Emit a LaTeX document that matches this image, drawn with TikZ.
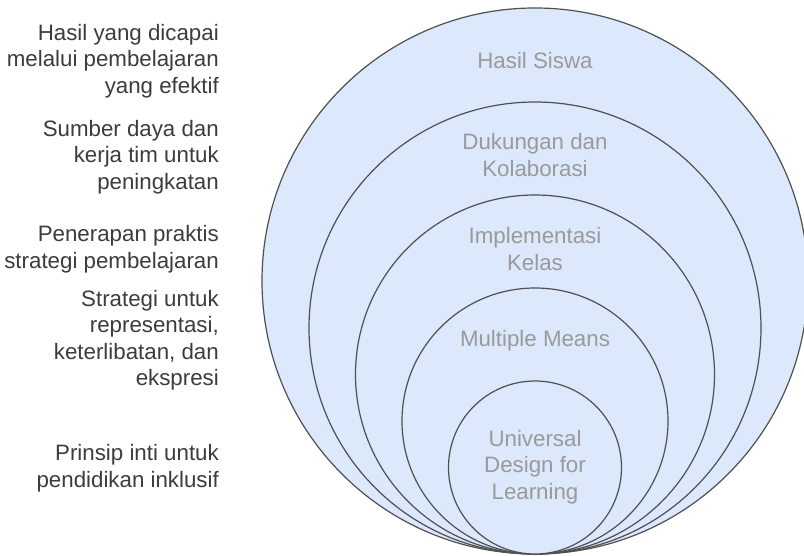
\documentclass[tikz,border=0pt]{standalone}
\usepackage{fontspec}
\setmainfont{Liberation Sans}
\definecolor{ringfill}{HTML}{DCE8FC}
\definecolor{ringline}{HTML}{505050}
\definecolor{ringtext}{HTML}{9A9A9A}
\definecolor{sidetext}{HTML}{3C3C3C}
\begin{document}
\begin{tikzpicture}[x=1pt,y=-1pt,
  ring/.style={circle, draw=ringline, fill=ringfill, line width=1.2pt, inner sep=0pt, outer sep=0pt},
  ringlabel/.style={text=ringtext, align=center, inner sep=0pt, font=\fontsize{22.3}{26.5}\selectfont},
  sidelabel/.style={text=sidetext, align=right, anchor=east, inner sep=0pt, font=\fontsize{22.3}{26.5}\selectfont}]
\useasboundingbox (0,0) rectangle (804,556);
\node[ring, minimum size=546pt] (c1) at (535,281) {};
\node[ring, minimum size=452pt] (c2) at (535,328) {};
\node[ring, minimum size=359pt] (c3) at (535,374.5) {};
\node[ring, minimum size=266pt] (c4) at (535,421) {};
\node[ring, minimum size=173pt] (c5) at (535,467.5) {};
\node[ringlabel] (l1) at (535,61) {Hasil Siswa};
\node[ringlabel] (l2) at (535,155) {Dukungan dan\\Kolaborasi};
\node[ringlabel] (l3) at (535,249) {Implementasi\\Kelas};
\node[ringlabel] (l4) at (535,341) {Multiple Means};
\node[ringlabel] (l5) at (535,467) {Universal\\Design for\\Learning};
\node[sidelabel] (s1) at (219,61) {Hasil yang dicapai\\melalui pembelajaran\\yang efektif};
\node[sidelabel] (s2) at (219,157) {Sumber daya dan\\kerja tim untuk\\peningkatan};
\node[sidelabel] (s3) at (219,249) {Penerapan praktis\\strategi pembelajaran};
\node[sidelabel] (s4) at (219,340) {Strategi untuk\\representasi,\\keterlibatan, dan\\ekspresi};
\node[sidelabel] (s5) at (219,468) {Prinsip inti untuk\\pendidikan inklusif};
\end{tikzpicture}
\end{document}
